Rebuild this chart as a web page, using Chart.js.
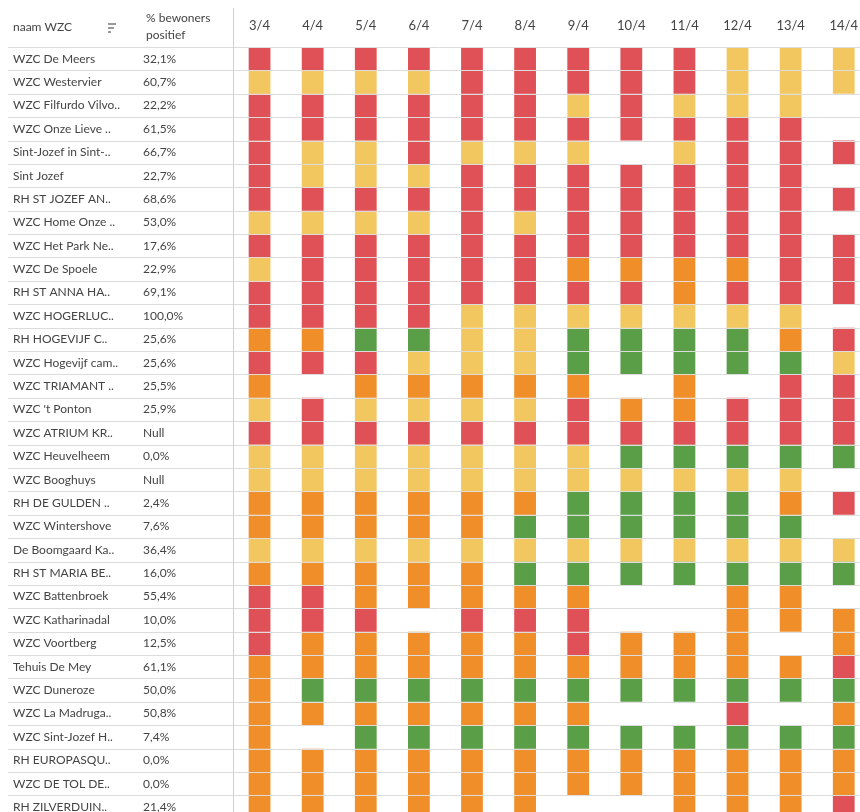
<!DOCTYPE html>
<html><head><meta charset="utf-8">
<script src="https://cdn.jsdelivr.net/npm/chart.js@4.4.1/dist/chart.umd.min.js"></script>
<style>
html,body{margin:0;padding:0;background:#fff;overflow:hidden;}
#wrap{width:871px;height:826px;position:relative;}
</style></head><body>
<div id="wrap"><canvas id="c" width="871" height="826"></canvas></div>
<script>
const dates = ['3/4','4/4','5/4','6/4','7/4','8/4','9/4','10/4','11/4','12/4','13/4','14/4'];

const facilities = [
  'WZC De Meers','WZC Westervier','WZC Filfurdo Vilvo..','WZC Onze Lieve ..','Sint-Jozef in Sint-..',
  'Sint Jozef','RH ST JOZEF AN..','WZC Home Onze ..','WZC Het Park Ne..','WZC De Spoele',
  'RH ST ANNA HA..','WZC HOGERLUC..','RH HOGEVIJF C..','WZC Hogevijf cam..','WZC TRIAMANT ..',
  "WZC 't Ponton",'WZC ATRIUM KR..','WZC Heuvelheem','WZC Booghuys','RH DE GULDEN ..',
  'WZC Wintershove','De Boomgaard Ka..','RH ST MARIA BE..','WZC Battenbroek','WZC Katharinadal',
  'WZC Voortberg','Tehuis De Mey','WZC Duneroze','WZC La Madruga..','WZC Sint-Jozef H..',
  'RH EUROPASQU..','WZC DE TOL DE..','RH ZILVERDUIN..'
];

const pctPositive = [
  '32,1%','60,7%','22,2%','61,5%','66,7%',
  '22,7%','68,6%','53,0%','17,6%','22,9%',
  '69,1%','100,0%','25,6%','25,6%','25,5%',
  '25,9%','Null','0,0%','Null','2,4%',
  '7,6%','36,4%','16,0%','55,4%','10,0%',
  '12,5%','61,1%','50,0%','50,8%','7,4%',
  '0,0%','0,0%','21,4%'
];

// status per facility per day: R = rood, O = oranje, Y = geel, G = groen, . = geen gegevens
const statusRows = [
  'RRRRRRRRRYYY','YYYYRRRRRYYY','RRRRRRYRYYY.','RRRRRRRRRRR.','RYYRYYY.YRRR',
  'RYYYRRRRRRR.','RRRRRRRRRRRR','YYYYRYRRRRR.','RRRRRRRRRRRR','YRRRRROOOORR',
  'RRRRRRRRORRR','RRRRYYYYYYY.','OOGGYYGGGGOR','RRRYYYGGGGGY','O.OOOOO.O.RR',
  'YRYYYYROORRR','RRRRRRRRRRRR','YYYYYYYGGGGG','YYYYYYYYYYY.','OOOOOOGGGGOR',
  'OOOOOGGGGGG.','YYYYYYYYYYYY','OOOOOGGGGGGG','RROOOOO..OO.','RRR.RRR..OOO',
  'ROOOOOROOO.O','OOOOOOOOOOOR','OGGGGGGGGGGG','OOOOOOO..R.O','O.GGGGGGGGGG',
  'OOOOOOOOOOOO','OOOOOOOOOOOO','OOOOOO..OOOR'
];

const statusColors = {R:'#e05157', Y:'#f2c75f', O:'#f08f2a', G:'#5a9e48'};

const FONT = 'Lato, "Noto Sans", sans-serif';
const TEXT = '#444444';
const nRows = facilities.length;

const datasets = statusRows.map((row, r) => ({
  label: facilities[r],
  yAxisID: 'y',
  grouped: false,
  barPercentage: 0.41,
  categoryPercentage: 1,
  borderWidth: 0,
  data: dates.map((d, c) => row[c] !== '.' ? [r, r + 1] : null),
  backgroundColor: dates.map((d, c) => statusColors[row[c]] || 'rgba(0,0,0,0)')
}));

function rowTicks(scale) {
  scale.ticks = facilities.map((f, i) => ({value: i + 0.5}));
}

const tablePlugin = {
  id: 'tablePlugin',
  beforeDraw(chart) {
    const c = chart.ctx;
    c.save();
    c.fillStyle = '#fff';
    c.fillRect(0, 0, chart.width, chart.height);
    c.restore();
  },
  afterDraw(chart) {
    const c = chart.ctx;
    const y = chart.scales.y;
    const area = chart.chartArea;
    c.save();
    c.strokeStyle = '#dcdcdc';
    c.lineWidth = 1;
    for (let i = 0; i <= nRows; i++) {
      const py = Math.round(y.getPixelForValue(i)) + 0.5;
      c.beginPath();
      c.moveTo(8, py);
      c.lineTo(chart.width, py);
      c.stroke();
    }
    c.strokeStyle = '#cfcfcf';
    const vx = Math.round(area.left) + 0.5;
    c.beginPath();
    c.moveTo(vx, 8);
    c.lineTo(vx, chart.height);
    c.stroke();

    c.fillStyle = TEXT;
    c.font = '12px ' + FONT;
    c.textBaseline = 'middle';
    c.textAlign = 'left';
    c.fillText('naam WZC', 13, 27);
    c.fillText('% bewoners', 146, 18);
    c.fillText('positief', 146, 35);

    // sort icon
    c.strokeStyle = '#777';
    c.lineWidth = 1.5;
    const ix = 108;
    [[24, 8], [28, 6], [32, 3]].forEach(([yy, w]) => {
      c.beginPath();
      c.moveTo(ix, yy);
      c.lineTo(ix + w, yy);
      c.stroke();
    });
    c.restore();
  }
};

new Chart(document.getElementById('c'), {
  type: 'bar',
  data: {labels: dates, datasets},
  options: {
    responsive: false,
    animation: false,
    devicePixelRatio: 1,
    layout: {padding: {left: 13, right: 0, top: 0, bottom: 1}},
    plugins: {legend: {display: false}, tooltip: {enabled: false}},
    scales: {
      x: {
        type: 'category', position: 'top', offset: true,
        grid: {display: false, drawTicks: false}, border: {display: false},
        ticks: {color: TEXT, font: {family: FONT, size: 13}, padding: 13, maxRotation: 0, autoSkip: false},
        afterFit(s) { s.height = 47; }
      },
      y: {type: 'linear', display: false, reverse: true, min: 0, max: nRows},
      yName: {
        type: 'linear', position: 'left', weight: 2, reverse: true, min: 0, max: nRows,
        grid: {display: false, drawTicks: false}, border: {display: false},
        afterBuildTicks: rowTicks,
        ticks: {crossAlign: 'far', padding: 0, autoSkip: false, color: TEXT,
          font: {family: FONT, size: 12},
          callback: (v, i) => facilities[i]},
        afterFit(s) { s.width = 130; }
      },
      yPct: {
        type: 'linear', position: 'left', weight: 1, reverse: true, min: 0, max: nRows,
        grid: {display: false, drawTicks: false}, border: {display: false},
        afterBuildTicks: rowTicks,
        ticks: {crossAlign: 'far', padding: 0, autoSkip: false, color: TEXT,
          font: {family: FONT, size: 12},
          callback: (v, i) => pctPositive[i]},
        afterFit(s) { s.width = 90; }
      }
    }
  },
  plugins: [tablePlugin]
});
</script>
</body></html>
